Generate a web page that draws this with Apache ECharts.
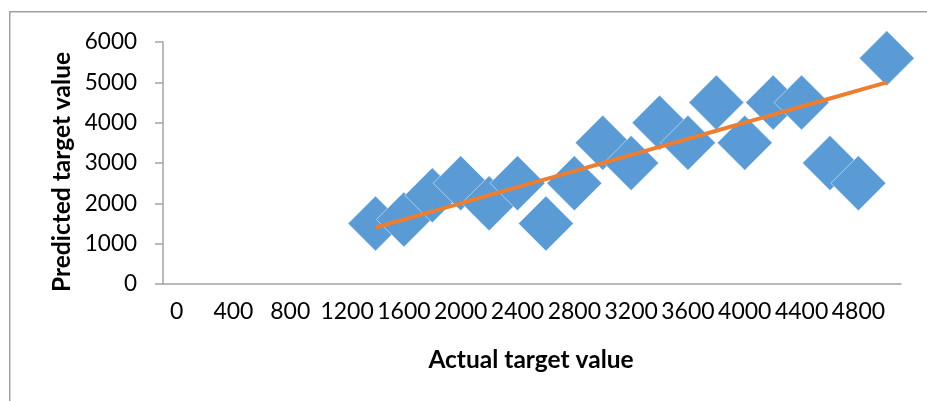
<!DOCTYPE html>
<html>
<head>
<meta charset="utf-8">
<script src="https://cdn.jsdelivr.net/npm/echarts@6/dist/echarts.min.js"></script>
<style>
  html, body { margin: 0; padding: 0; background: #ffffff; }
  #chart { width: 927px; height: 401px; }
</style>
</head>
<body>
<div id="chart"></div>
<script>
// Actual vs. predicted target values
const actualValues = [1400, 1600, 1800, 2000, 2200, 2400, 2600, 2800, 3000, 3200,
                      3400, 3600, 3800, 4000, 4200, 4400, 4600, 4800, 5000];
const predictedValues = [1500, 1600, 2200, 2500, 2000, 2500, 1500, 2500, 3500, 3000,
                         4000, 3500, 4500, 3500, 4500, 4500, 3000, 2500, 5600];
// Reference line: predicted equals actual
const idealValues = [1400, 1600, 1800, 2000, 2200, 2400, 2600, 2800, 3000, 3200,
                     3400, 3600, 3800, 4000, 4200, 4400, 4600, 4800, 5000];
const xTickLabels = [0, 400, 800, 1200, 1600, 2000, 2400, 2800, 3200, 3600, 4000, 4400, 4800];
const yTickLabels = [0, 1000, 2000, 3000, 4000, 5000, 6000];

const xTitle = 'Actual target value';
const yTitle = 'Predicted target value';

const scatterData = actualValues.map((x, i) => [x, predictedValues[i]]);
const lineData = actualValues.map((x, i) => [x, idealValues[i]]);

const FONT = 'Lato, "Open Sans", sans-serif';
const AXIS_GRAY = '#A3A3A3';
const plain = (v) => String(v);

const chart = echarts.init(document.getElementById('chart'), null, { renderer: 'canvas' });

chart.setOption({
  animation: false,
  backgroundColor: '#ffffff',
  grid: { left: 163, right: 26, top: 42, bottom: 117, containLabel: false, outerBoundsMode: 'none' },
  xAxis: {
    type: 'value',
    min: -96,
    max: 5100,
    axisLine: { show: true, onZero: false, lineStyle: { color: AXIS_GRAY, width: 1.5 } },
    axisTick: { show: false },
    splitLine: { show: false },
    axisLabel: {
      customValues: xTickLabels,
      formatter: plain,
      hideOverlap: false,
      showMinLabel: true,
      showMaxLabel: true,
      color: '#000000',
      fontFamily: FONT,
      fontSize: 23,
      margin: 16
    }
  },
  yAxis: {
    type: 'value',
    min: yTickLabels[0],
    max: yTickLabels[yTickLabels.length - 1],
    interval: 1000,
    axisLine: { show: true, onZero: false, lineStyle: { color: AXIS_GRAY, width: 1.5 } },
    axisTick: { show: true, length: 8, lineStyle: { color: AXIS_GRAY, width: 1.5 } },
    splitLine: { show: false },
    axisLabel: {
      formatter: plain,
      color: '#000000',
      fontFamily: FONT,
      fontSize: 22.5,
      margin: 26
    }
  },
  graphic: [
    {
      type: 'rect',
      silent: true,
      z: -10,
      shape: { x: 9.75, y: 11.75, width: 1000, height: 500 },
      style: { fill: 'none', stroke: '#A0A0A0', lineWidth: 1.5 }
    },
    {
      type: 'text',
      silent: true,
      x: 531,
      y: 360,
      style: {
        text: xTitle,
        fill: '#000000',
        font: 'bold 24.5px ' + FONT,
        textAlign: 'center',
        textVerticalAlign: 'middle'
      }
    },
    {
      type: 'text',
      silent: true,
      x: 62,
      y: 172,
      rotation: Math.PI / 2,
      style: {
        text: yTitle,
        fill: '#000000',
        font: 'bold 24.5px ' + FONT,
        textAlign: 'center',
        textVerticalAlign: 'middle'
      }
    }
  ],
  series: [
    {
      name: 'Predicted',
      type: 'scatter',
      symbol: 'diamond',
      symbolSize: 55,
      data: scatterData,
      itemStyle: { color: '#5B9BD5', opacity: 1, borderColor: 'rgba(255,255,255,0.6)', borderWidth: 0.8 },
      z: 2
    },
    {
      name: 'Ideal',
      type: 'line',
      data: lineData,
      showSymbol: false,
      symbol: 'none',
      lineStyle: { color: '#ED7D31', width: 4 },
      z: 3
    }
  ]
});
</script>
</body>
</html>
